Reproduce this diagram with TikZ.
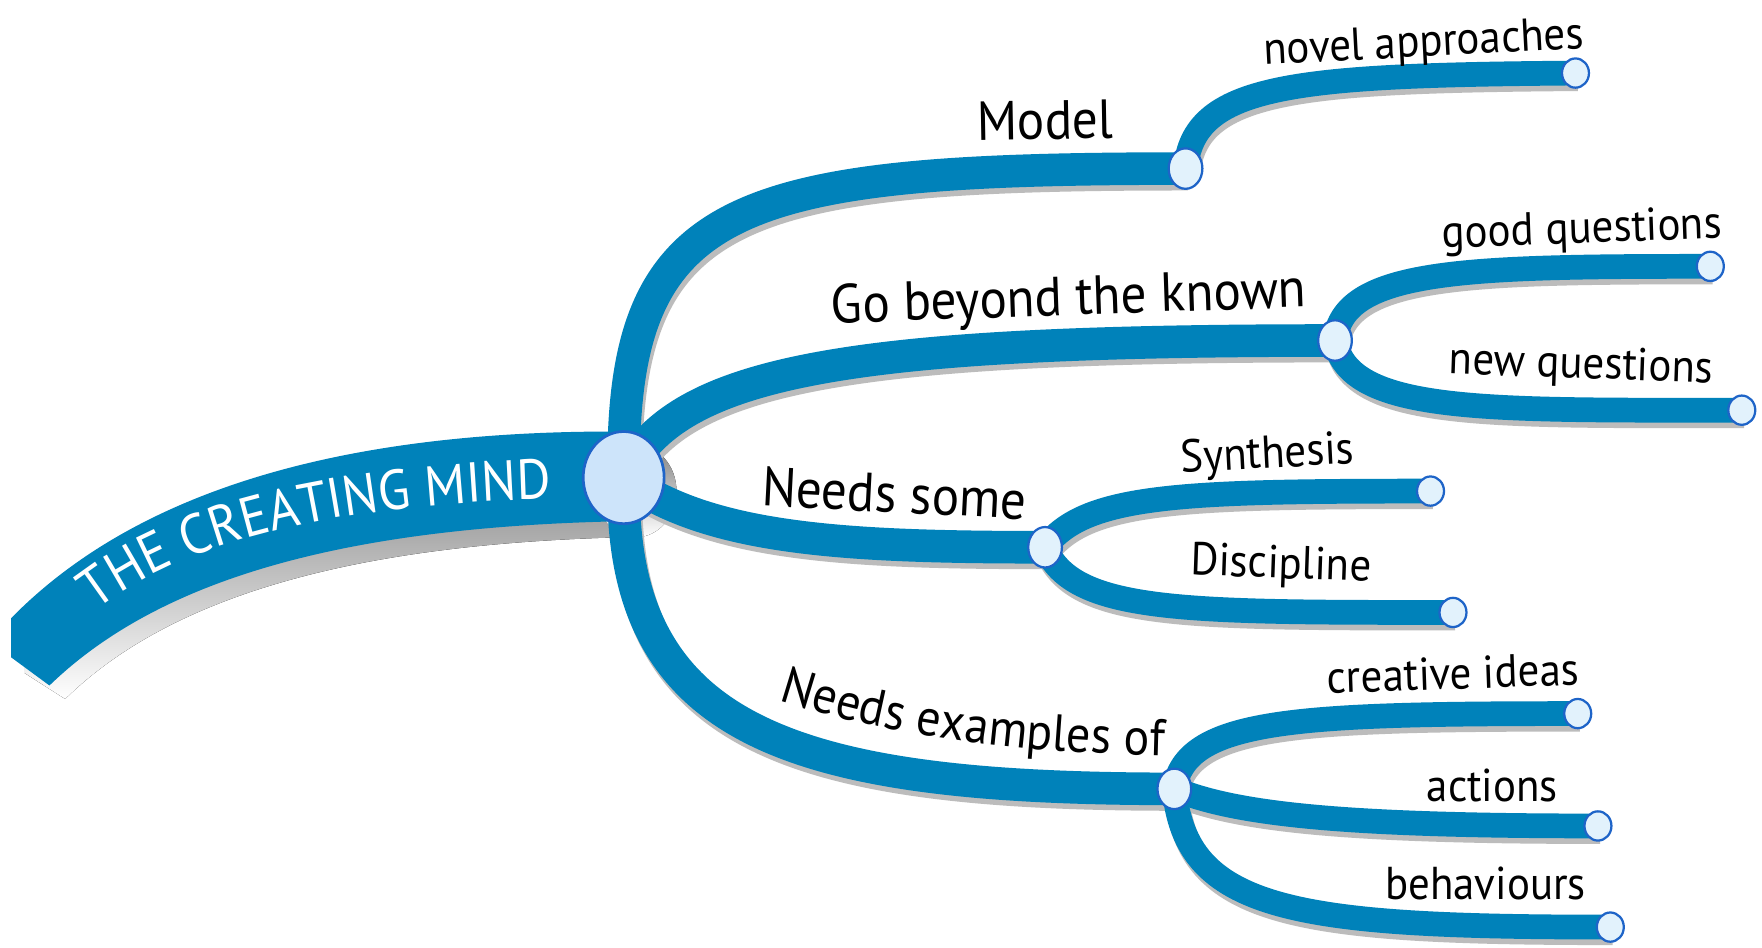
\documentclass[tikz,border=0pt]{standalone}
\usepackage{fontspec}
\setmainfont{PT Sans}[FakeStretch=0.93]
\usetikzlibrary{shapes.geometric,decorations.text}
\definecolor{band}{RGB}{0,130,186}
\definecolor{shade}{RGB}{188,188,188}
\definecolor{nodefill}{RGB}{226,242,252}
\definecolor{cfill}{RGB}{205,228,250}
\definecolor{nodeline}{RGB}{30,100,200}
\pgfdeclarelayer{bglayer}
\pgfdeclarelayer{shadowlayer}
\pgfdeclarelayer{bandlayer}
\pgfsetlayers{bglayer,shadowlayer,bandlayer,main}
\newcommand\mainfnt{\fontsize{24.5}{26}\selectfont}
\newcommand\examplesfnt{\fontsize{23}{25}\selectfont}
\newcommand\subfnt{\fontsize{20.5}{22}\selectfont}
\newcommand\trunkfnt{\fontsize{25}{27}\selectfont}
\newcommand\mybranch[2]{%
  \begin{pgfonlayer}{shadowlayer}\draw[draw=shade, line width=#1, transform canvas={shift={(2,5)}}] #2;\end{pgfonlayer}%
  \begin{pgfonlayer}{bandlayer}\draw[draw=band, line width=#1] #2;\end{pgfonlayer}}
\begin{document}
\begin{tikzpicture}[x=0.5pt,y=-0.5pt,
  corenode/.style={ellipse, draw=nodeline, line width=1.2pt, fill=cfill, inner sep=0pt, minimum width=36pt, minimum height=41pt},
  hubnode/.style={ellipse, draw=nodeline, line width=1pt, fill=nodefill, inner sep=0pt, minimum width=15pt, minimum height=18pt},
  leafnode/.style={ellipse, draw=nodeline, line width=1pt, fill=nodefill, inner sep=0pt, minimum width=12pt, minimum height=13pt},
  mainlbl/.style={font=\mainfnt, inner sep=0pt, text=black},
  sublbl/.style={font=\subfnt, inner sep=0pt, text=black}]
\begin{pgfonlayer}{bglayer}
\fill[white] (0,0) rectangle (1568,843);
\end{pgfonlayer}
\useasboundingbox (0,0) rectangle (1568,843);

% nodes
\node[corenode] (core) at (555,425) {};
\node[hubnode] (model) at (1055,150) {};
\node[hubnode] (beyond) at (1188,303) {};
\node[hubnode] (some) at (930,487) {};
\node[hubnode] (examples) at (1045,702) {};
\node[leafnode] (novel) at (1402,65) {};
\node[leafnode] (goodq) at (1522,237) {};
\node[leafnode] (newq) at (1550,365) {};
\node[leafnode] (synth) at (1273,437) {};
\node[leafnode] (disc) at (1293,545) {};
\node[leafnode] (ideas) at (1404,635) {};
\node[leafnode] (actions) at (1422,735) {};
\node[leafnode] (behav) at (1433,825) {};

% trunk
\begin{pgfonlayer}{shadowlayer}
\fill[shade] (22,562) .. controls (130,452) and (310,398) .. (557,398) -- (557,478) .. controls (310,484) and (150,532) .. (58,622) -- (22,599) -- cycle;
\fill[shade] (566,437) ellipse (36 and 41);
\end{pgfonlayer}
\begin{pgfonlayer}{bandlayer}
\fill[band] (10,550) .. controls (120,438) and (300,384) .. (545,384) -- (545,464) .. controls (300,470) and (140,517) .. (44,610) -- (10,585) -- cycle;
\end{pgfonlayer}
\path[decorate, decoration={text along path, text align=center, text color=white,
  text={|\trunkfnt|THE CREATING MIND}}] (60,566) .. controls (140,484) and (290,446) .. (525,443);

% main branches
\mybranch{14.5pt}{(core.center) .. controls (552,180) and (650,150) .. (model.center)}
\mybranch{14.5pt}{(core.center) .. controls (600,330) and (750,303) .. (beyond.center)}
\mybranch{14.5pt}{(core.center) .. controls (630,480) and (750,487) .. (some.center)}
\mybranch{14.5pt}{(core.center) .. controls (550,650) and (700,702) .. (examples.center)}
% sub branches
\mybranch{11pt}{(model.center) .. controls (1062,75) and (1150,67) .. (novel.center)}
\mybranch{11pt}{(beyond.center) .. controls (1195,240) and (1300,237) .. (goodq.center)}
\mybranch{11pt}{(beyond.center) .. controls (1200,368) and (1320,365) .. (newq.center)}
\mybranch{11pt}{(some.center) .. controls (965,440) and (1050,437) .. (synth.center)}
\mybranch{11pt}{(some.center) .. controls (955,545) and (1050,545) .. (disc.center)}
\mybranch{11pt}{(examples.center) .. controls (1055,640) and (1150,635) .. (ideas.center)}
\mybranch{11pt}{(examples.center) .. controls (1100,725) and (1200,735) .. (actions.center)}
\mybranch{11pt}{(examples.center) .. controls (1055,810) and (1150,825) .. (behav.center)}

% labels
\node[mainlbl, rotate=1] (lmodel) at (930,107) {Model};
\node[sublbl, rotate=3] (lnovel) at (1267,40) {novel approaches};
\node[mainlbl, rotate=2] (lbeyond) at (951,268) {Go beyond the known};
\node[sublbl, rotate=2] (lgoodq) at (1408,206) {good questions};
\node[sublbl, rotate=-2] (lnewq) at (1407,326) {new questions};
\node[mainlbl, rotate=-3] (lsome) at (796,439) {Needs some};
\node[sublbl, rotate=3] (lsynth) at (1128,406) {Synthesis};
\node[sublbl, rotate=-2] (ldisc) at (1140,504) {Discipline};
\path[decorate, decoration={text along path, text align=center,
  text={|\examplesfnt|Needs examples of}}] (675,617) .. controls (770,650) and (880,670) .. (1055,673);
\node[sublbl, rotate=2] (lideas) at (1293,599) {creative ideas};
\node[sublbl] (lactions) at (1328,699) {actions};
\node[sublbl] (lbehav) at (1322,786) {behaviours};
\end{tikzpicture}
\end{document}
